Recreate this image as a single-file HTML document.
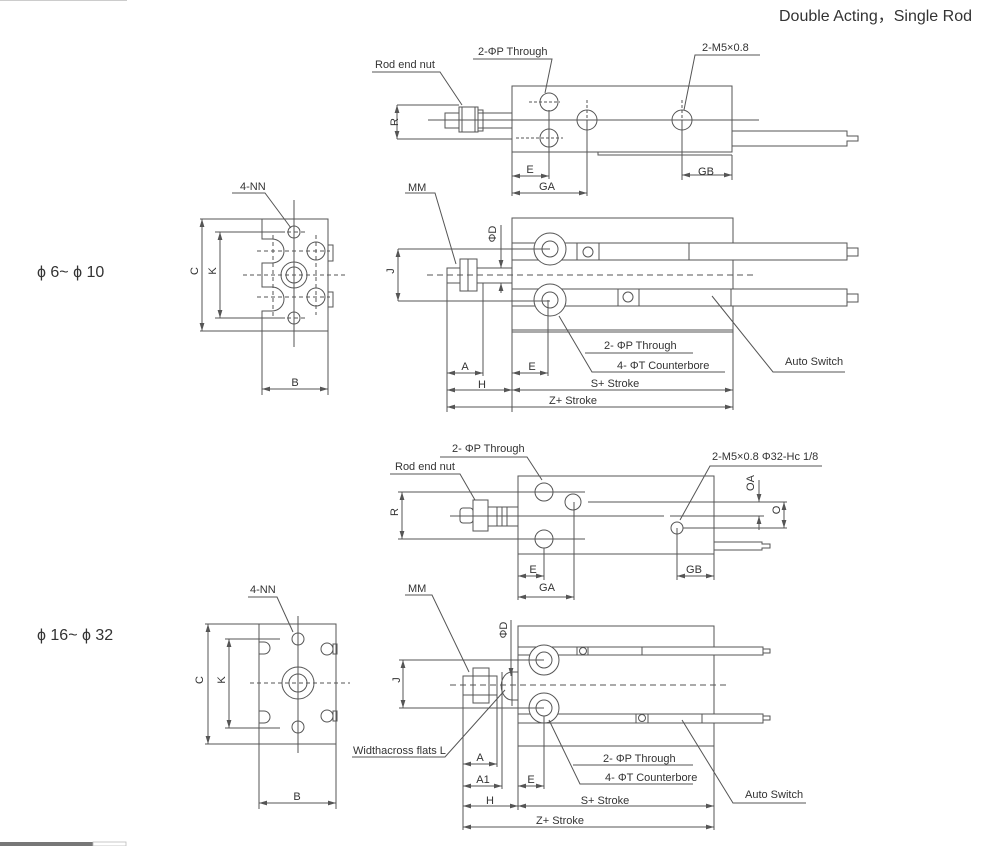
<!DOCTYPE html>
<html><head><meta charset="utf-8"><style>
html,body{margin:0;padding:0;background:#fff;}
svg{display:block;}
text{font-family:"Liberation Sans",Arial,sans-serif;fill:#333;}
</style></head><body>
<svg width="987" height="846" viewBox="0 0 987 846" xmlns="http://www.w3.org/2000/svg">
<defs>
<marker id="a" viewBox="0 0 10 6" refX="10" refY="3" markerWidth="8" markerHeight="5" orient="auto-start-reverse" markerUnits="userSpaceOnUse"><path d="M0,0 L10,3 L0,6 z" fill="#555"/></marker>
</defs>
<line x1="0" y1="0.5" x2="127" y2="0.5" stroke="#ccc" stroke-width="1"/>
<rect x="0" y="842" width="93" height="4" fill="#777"/>
<rect x="93" y="842" width="33" height="4" fill="#fff" stroke="#bbb" stroke-width="0.8"/>
<text x="972" y="21" font-size="16" text-anchor="end">Double Acting，Single Rod</text>
<text x="37" y="277" font-size="16">ϕ 6~ ϕ 10</text>
<text x="37" y="640" font-size="16">ϕ 16~ ϕ 32</text>

<g fill="none" stroke="#555" stroke-width="1">
<!-- ===== View 1 top ===== -->
<rect x="512" y="86" width="220" height="66"/>
<polyline points="598,152 598,155 732,155"/>
<line x1="428" y1="120" x2="759" y2="120"/>
<line x1="478" y1="113" x2="512" y2="113"/><line x1="478" y1="128" x2="512" y2="128"/>
<rect x="478" y="110" width="5" height="21"/>
<rect x="459" y="107" width="19" height="25"/>
<line x1="462" y1="107" x2="462" y2="132"/><line x1="475" y1="107" x2="475" y2="132"/>
<rect x="445" y="113" width="14" height="15"/>
<circle cx="549" cy="102" r="9"/><circle cx="549" cy="138" r="9"/>
<circle cx="587" cy="120" r="10"/><circle cx="682" cy="120" r="10"/>
<g stroke-dasharray="3,2"><line x1="529" y1="102" x2="560" y2="102"/><line x1="516" y1="138" x2="563" y2="138"/><line x1="587" y1="100" x2="587" y2="130"/><line x1="682" y1="100" x2="682" y2="130"/></g>
<polyline points="732,131 847,131 847,136 858,136 858,141 847,141 847,146 732,146"/>
<line x1="397" y1="105" x2="459" y2="105"/><line x1="397" y1="139" x2="512" y2="139"/>
<line x1="397" y1="105" x2="397" y2="139" marker-start="url(#a)" marker-end="url(#a)"/>
<line x1="512" y1="152" x2="512" y2="196"/><line x1="549" y1="110" x2="549" y2="179"/><line x1="587" y1="120" x2="587" y2="196"/>
<line x1="512" y1="176" x2="549" y2="176" marker-start="url(#a)" marker-end="url(#a)"/>
<line x1="512" y1="193" x2="587" y2="193" marker-start="url(#a)" marker-end="url(#a)"/>
<line x1="682" y1="120" x2="682" y2="180"/><line x1="732" y1="155" x2="732" y2="180"/>
<line x1="682" y1="175" x2="732" y2="175" marker-start="url(#a)" marker-end="url(#a)"/>
<polyline points="372,72 440,72 462,105"/>
<polyline points="473,59 552,59 545,93"/>
<polyline points="760,55 695,55 684,110"/>

<!-- ===== View 2 ===== -->
<rect x="512" y="218" width="221" height="112"/>
<rect x="512" y="243" width="335" height="17" fill="#fff"/>
<line x1="689" y1="243" x2="689" y2="260"/>
<rect x="577" y="243" width="22" height="17"/><circle cx="588" cy="252" r="5"/>
<rect x="847" y="248" width="11" height="8"/>
<rect x="512" y="289" width="335" height="17" fill="#fff"/>
<line x1="731" y1="289" x2="731" y2="306"/>
<rect x="618" y="289" width="21" height="17"/><circle cx="628" cy="297" r="5"/>
<rect x="847" y="294" width="11" height="8"/>
<circle cx="550" cy="249" r="16" fill="#fff"/><circle cx="550" cy="249" r="8"/>
<circle cx="550" cy="300" r="16" fill="#fff"/><circle cx="550" cy="300" r="8"/>
<line x1="427" y1="275" x2="757" y2="275" stroke-dasharray="6,4"/>
<rect x="477" y="268" width="35" height="15"/>
<rect x="447" y="268" width="13" height="15"/>
<rect x="460" y="259" width="17" height="32"/>
<line x1="468" y1="259" x2="468" y2="291"/>
<line x1="398" y1="249" x2="550" y2="249"/><line x1="398" y1="301" x2="550" y2="301"/>
<line x1="398" y1="249" x2="398" y2="301" marker-start="url(#a)" marker-end="url(#a)"/>
<line x1="501" y1="225" x2="501" y2="268" marker-end="url(#a)"/><line x1="501" y1="293" x2="501" y2="283" marker-end="url(#a)"/>
<line x1="512" y1="330" x2="512" y2="412"/><line x1="733" y1="330" x2="733" y2="410"/><line x1="512" y1="332" x2="733" y2="332"/>
<line x1="447" y1="283" x2="447" y2="412"/><line x1="483" y1="283" x2="483" y2="376"/><line x1="548" y1="300" x2="548" y2="376"/>
<line x1="447" y1="373" x2="483" y2="373" marker-start="url(#a)" marker-end="url(#a)"/>
<line x1="512" y1="373" x2="548" y2="373" marker-start="url(#a)" marker-end="url(#a)"/>
<line x1="447" y1="390" x2="512" y2="390" marker-start="url(#a)" marker-end="url(#a)"/>
<line x1="512" y1="390" x2="733" y2="390" marker-start="url(#a)" marker-end="url(#a)"/>
<line x1="447" y1="407" x2="733" y2="407" marker-start="url(#a)" marker-end="url(#a)"/>
<polyline points="405,193 435,193 456,264"/>
<line x1="585" y1="353" x2="693" y2="353"/>
<polyline points="725,372 592,372 559,316"/>
<polyline points="845,372 773,372 712,296"/>

<!-- ===== End view 1 ===== -->
<path d="M262,219 H328 V331 H262 V311 H272 A12,12 0 0 0 272,287 H262 V263 H272 A12,12 0 0 0 272,239 H262 Z"/>
<rect x="328" y="245" width="5" height="16"/><rect x="328" y="292" width="5" height="15"/>
<circle cx="294" cy="275" r="13"/><circle cx="294" cy="275" r="8"/>
<circle cx="294" cy="232" r="6"/><circle cx="294" cy="318" r="6"/>
<circle cx="316" cy="251" r="9"/><circle cx="316" cy="297" r="9"/>
<line x1="294" y1="200" x2="294" y2="347"/>
<g stroke-dasharray="4,3"><line x1="243" y1="275" x2="347" y2="275"/><line x1="257" y1="251" x2="330" y2="251"/><line x1="257" y1="297" x2="330" y2="297"/><line x1="273" y1="235" x2="273" y2="318"/><line x1="316" y1="235" x2="316" y2="315"/><line x1="280" y1="232" x2="306" y2="232"/><line x1="280" y1="318" x2="306" y2="318"/></g>
<line x1="200" y1="219" x2="262" y2="219"/><line x1="200" y1="331" x2="262" y2="331"/>
<line x1="202" y1="219" x2="202" y2="331" marker-start="url(#a)" marker-end="url(#a)"/>
<line x1="215" y1="232" x2="285" y2="232"/><line x1="215" y1="318" x2="285" y2="318"/>
<line x1="220" y1="232" x2="220" y2="318" marker-start="url(#a)" marker-end="url(#a)"/>
<line x1="262" y1="331" x2="262" y2="395"/><line x1="328" y1="331" x2="328" y2="395"/>
<line x1="262" y1="389" x2="328" y2="389" marker-start="url(#a)" marker-end="url(#a)"/>
<polyline points="232,193 265,193 291,228"/>

<!-- ===== View 3 ===== -->
<rect x="518" y="476" width="196" height="78"/>
<line x1="450" y1="516" x2="664" y2="516"/><line x1="670" y1="516" x2="764" y2="516"/>
<rect x="488" y="507" width="30" height="19"/>
<line x1="497" y1="507" x2="497" y2="526"/><line x1="502" y1="507" x2="502" y2="526"/><line x1="507" y1="507" x2="507" y2="526"/>
<rect x="473" y="500" width="15" height="31"/>
<rect x="460" y="508" width="13" height="15" rx="3"/>
<circle cx="544" cy="492" r="9"/><circle cx="544" cy="539" r="9"/>
<circle cx="573" cy="502" r="8"/><circle cx="677" cy="528" r="6"/>
<line x1="588" y1="502" x2="787" y2="502"/><line x1="683" y1="528" x2="787" y2="528"/>
<line x1="759" y1="480" x2="759" y2="502" marker-end="url(#a)"/><line x1="759" y1="530" x2="759" y2="516" marker-end="url(#a)"/>
<line x1="784" y1="502" x2="784" y2="528" marker-start="url(#a)" marker-end="url(#a)"/>
<polyline points="714,542 762,542 762,544 770,544 770,548 762,548 762,550 714,550"/>
<line x1="398" y1="492" x2="585" y2="492"/><line x1="398" y1="539" x2="585" y2="539"/>
<line x1="402" y1="492" x2="402" y2="539" marker-start="url(#a)" marker-end="url(#a)"/>
<line x1="518" y1="554" x2="518" y2="600"/><line x1="544" y1="548" x2="544" y2="580"/><line x1="574" y1="502" x2="574" y2="600"/>
<line x1="518" y1="576" x2="544" y2="576" marker-start="url(#a)" marker-end="url(#a)"/>
<line x1="518" y1="597" x2="574" y2="597" marker-start="url(#a)" marker-end="url(#a)"/>
<line x1="677" y1="528" x2="677" y2="580"/><line x1="714" y1="554" x2="714" y2="580"/>
<line x1="677" y1="576" x2="714" y2="576" marker-start="url(#a)" marker-end="url(#a)"/>
<polyline points="440,457 527,457 542,480"/>
<polyline points="390,474 460,474 475,500"/>
<polyline points="822,466 710,466 680,520"/>

<!-- ===== View 4 ===== -->
<rect x="518" y="626" width="196" height="120"/>
<rect x="518" y="647" width="245" height="8" fill="#fff"/>
<line x1="642" y1="647" x2="642" y2="655"/>
<rect x="577" y="647" width="11" height="8"/><circle cx="583" cy="651" r="3.5"/>
<rect x="763" y="649" width="7" height="4"/>
<rect x="518" y="714" width="245" height="9" fill="#fff"/>
<line x1="702" y1="714" x2="702" y2="723"/>
<rect x="636" y="714" width="12" height="9"/><circle cx="642" cy="718" r="3.5"/>
<rect x="763" y="716" width="7" height="4"/>
<circle cx="544" cy="660" r="15" fill="#fff"/><circle cx="544" cy="660" r="8"/>
<circle cx="544" cy="708" r="15" fill="#fff"/><circle cx="544" cy="708" r="8"/>
<line x1="450" y1="685" x2="730" y2="685" stroke-dasharray="6,4"/>
<rect x="463" y="676" width="34" height="19"/>
<rect x="473" y="668" width="16" height="35"/>
<line x1="502" y1="672" x2="502" y2="700"/>
<path d="M512,672 A10,13 0 0 0 512,700"/>
<line x1="512" y1="668" x2="512" y2="706"/><line x1="518" y1="672" x2="512" y2="672"/><line x1="518" y1="700" x2="512" y2="700"/>
<line x1="399" y1="660" x2="544" y2="660"/><line x1="399" y1="708" x2="544" y2="708"/>
<line x1="403" y1="660" x2="403" y2="708" marker-start="url(#a)" marker-end="url(#a)"/>
<line x1="511" y1="620" x2="511" y2="676" marker-end="url(#a)"/>
<line x1="463" y1="695" x2="463" y2="830"/><line x1="497" y1="695" x2="497" y2="767"/><line x1="502" y1="700" x2="502" y2="789"/>
<line x1="518" y1="746" x2="518" y2="810"/><line x1="714" y1="746" x2="714" y2="830"/><line x1="544" y1="716" x2="544" y2="789"/>
<line x1="463" y1="764" x2="497" y2="764" marker-start="url(#a)" marker-end="url(#a)"/>
<line x1="463" y1="786" x2="502" y2="786" marker-start="url(#a)" marker-end="url(#a)"/>
<line x1="518" y1="786" x2="544" y2="786" marker-start="url(#a)" marker-end="url(#a)"/>
<line x1="463" y1="806" x2="518" y2="806" marker-start="url(#a)" marker-end="url(#a)"/>
<line x1="518" y1="806" x2="714" y2="806" marker-start="url(#a)" marker-end="url(#a)"/>
<line x1="463" y1="827" x2="714" y2="827" marker-start="url(#a)" marker-end="url(#a)"/>
<polyline points="405,595 432,595 469,672"/>
<polyline points="352,757 445,757 505,690"/>
<line x1="573" y1="765" x2="693" y2="765"/>
<polyline points="693,784 580,784 549,720"/>
<polyline points="806,803 733,803 682,720"/>

<!-- ===== End view 2 ===== -->
<rect x="259" y="624" width="77" height="120"/>
<path d="M259,642 H264 A6,6 0 0 1 264,654 H259 M259,711 H264 A6,6 0 0 1 264,723 H259"/>
<circle cx="298" cy="683" r="16"/><circle cx="298" cy="683" r="9"/>
<circle cx="298" cy="639" r="6"/><circle cx="298" cy="727" r="6"/>
<circle cx="327" cy="649" r="6"/><circle cx="327" cy="716" r="6"/>
<rect x="333" y="644" width="4" height="10"/><rect x="333" y="711" width="4" height="10"/>
<line x1="298" y1="616" x2="298" y2="753"/>
<line x1="250" y1="683" x2="350" y2="683" stroke-dasharray="4,3"/>
<line x1="205" y1="624" x2="259" y2="624"/><line x1="205" y1="744" x2="259" y2="744"/>
<line x1="208" y1="624" x2="208" y2="744" marker-start="url(#a)" marker-end="url(#a)"/>
<line x1="225" y1="639" x2="280" y2="639"/><line x1="225" y1="728" x2="280" y2="728"/>
<line x1="229" y1="639" x2="229" y2="728" marker-start="url(#a)" marker-end="url(#a)"/>
<line x1="259" y1="744" x2="259" y2="809"/><line x1="336" y1="744" x2="336" y2="809"/>
<line x1="259" y1="803" x2="336" y2="803" marker-start="url(#a)" marker-end="url(#a)"/>
<polyline points="248,597 277,597 293,632"/>
</g>

<g font-size="11">
<text x="375" y="68">Rod end nut</text>
<text x="478" y="55">2-ΦP  Through</text>
<text x="702" y="51">2-M5×0.8</text>
<text x="394" y="126" transform="rotate(-90 394 122)" text-anchor="middle">R</text>
<text x="530" y="173" text-anchor="middle">E</text>
<text x="547" y="190" text-anchor="middle">GA</text>
<text x="706" y="175" text-anchor="middle">GB</text>
<text x="408" y="191">MM</text>
<text x="498" y="240" transform="rotate(-90 494 238)" text-anchor="middle">ΦD</text>
<text x="395" y="278" transform="rotate(-90 391 275)" text-anchor="middle">J</text>
<text x="465" y="370" text-anchor="middle">A</text>
<text x="532" y="370" text-anchor="middle">E</text>
<text x="482" y="388" text-anchor="middle">H</text>
<text x="615" y="387" text-anchor="middle">S+ Stroke</text>
<text x="573" y="404" text-anchor="middle">Z+ Stroke</text>
<text x="604" y="349">2- ΦP  Through</text>
<text x="617" y="369">4- ΦT Counterbore</text>
<text x="785" y="365">Auto Switch</text>
<text x="240" y="190">4-NN</text>
<text x="199" y="278" transform="rotate(-90 195 275)" text-anchor="middle">C</text>
<text x="217" y="278" transform="rotate(-90 213 275)" text-anchor="middle">K</text>
<text x="295" y="386" text-anchor="middle">B</text>

<text x="452" y="452">2- ΦP Through</text>
<text x="395" y="470">Rod end nut</text>
<text x="712" y="460">2-M5×0.8  Φ32-Hc 1/8</text>
<text x="399" y="519" transform="rotate(-90 395 516)" text-anchor="middle">R</text>
<text x="755" y="490" transform="rotate(-90 751 487)" text-anchor="middle">OA</text>
<text x="781" y="517" transform="rotate(-90 777 514)" text-anchor="middle">O</text>
<text x="533" y="573" text-anchor="middle">E</text>
<text x="547" y="591" text-anchor="middle">GA</text>
<text x="694" y="573" text-anchor="middle">GB</text>

<text x="408" y="592">MM</text>
<text x="508" y="637" transform="rotate(-90 504 634)" text-anchor="middle">ΦD</text>
<text x="400" y="688" transform="rotate(-90 396 684)" text-anchor="middle">J</text>
<text x="353" y="754">Widthacross flats  L</text>
<text x="480" y="761" text-anchor="middle">A</text>
<text x="483" y="783" text-anchor="middle">A1</text>
<text x="531" y="783" text-anchor="middle">E</text>
<text x="490" y="804" text-anchor="middle">H</text>
<text x="605" y="804" text-anchor="middle">S+ Stroke</text>
<text x="560" y="824" text-anchor="middle">Z+ Stroke</text>
<text x="603" y="762">2- ΦP  Through</text>
<text x="605" y="781">4- ΦT  Counterbore</text>
<text x="745" y="798">Auto Switch</text>
<text x="250" y="593">4-NN</text>
<text x="204" y="687" transform="rotate(-90 200 684)" text-anchor="middle">C</text>
<text x="226" y="687" transform="rotate(-90 222 684)" text-anchor="middle">K</text>
<text x="297" y="800" text-anchor="middle">B</text>
</g>
</svg>
</body></html>
